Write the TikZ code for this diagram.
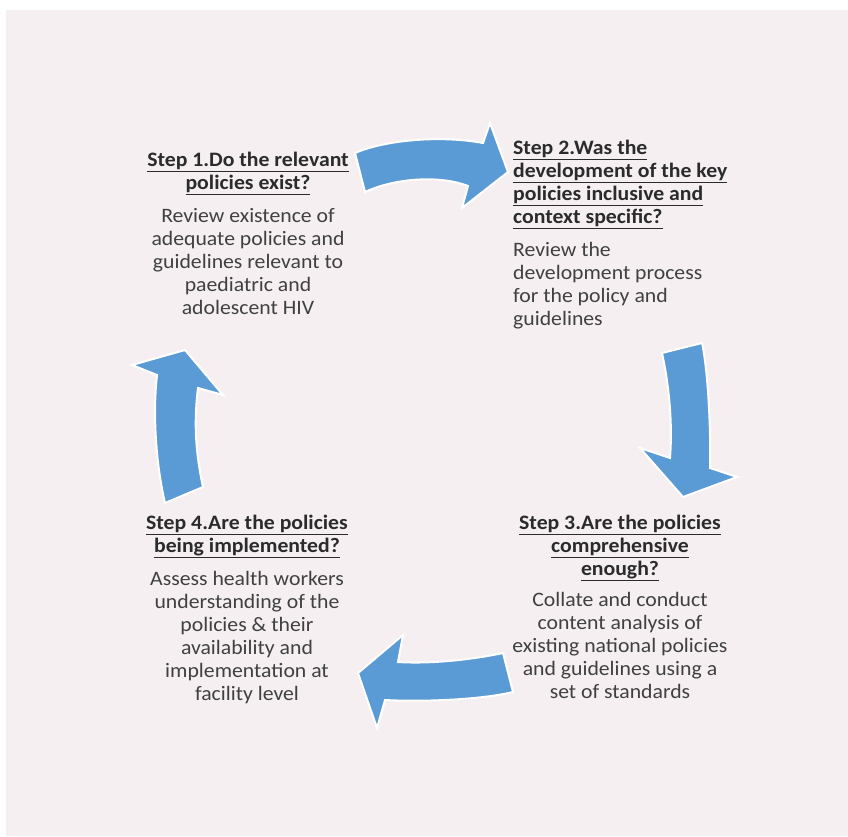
\documentclass[tikz,border=0pt]{standalone}
\usepackage{fontspec}
\setmainfont{Carlito}[FakeStretch=1.06]
\usepackage{tikz}
\usetikzlibrary{positioning}
\definecolor{bgpink}{HTML}{F5EFF1}
\definecolor{arrowblue}{HTML}{5B9BD5}
\definecolor{textgray}{HTML}{404040}
\definecolor{headgray}{HTML}{2B2B2B}
\newcommand{\stephead}[1]{{\color{headgray}\bfseries\underline{#1}}}

\begin{document}
\begin{tikzpicture}[x=1pt,y=-1pt,
  stepbox/.style={inner sep=0pt,text=textgray,font=\fontsize{20.5}{23}\selectfont},
  cyclearrow/.style={fill=arrowblue,draw=white,line width=2pt,line join=miter}]
  \useasboundingbox (0,0) rectangle (848,836);
  \fill[bgpink] (6,10) rectangle (848,836);
  % the four steps
  \node[stepbox,align=center,anchor=north] (step1) at (248,152)
    {\stephead{Step 1.Do the relevant}\\ \stephead{policies exist?}\\[10pt]
     Review existence of\\ adequate policies and\\ guidelines relevant to\\
     paediatric and\\ adolescent HIV};
  \node[stepbox,align=left,anchor=north west] (step2) at (513,140)
    {\stephead{Step 2.Was the}\\ \stephead{development of the key}\\
     \stephead{policies inclusive and}\\ \stephead{context specific?}\\[10pt]
     Review the\\ development process\\ for the policy and\\ guidelines};
  \node[stepbox,align=center,anchor=north] (step3) at (620,515)
    {\stephead{Step 3.Are the policies}\\ \stephead{comprehensive}\\
     \stephead{enough?}\\[8pt]
     Collate and conduct\\ content analysis of\\ existing national policies\\
     and guidelines using a\\ set of standards};
  \node[stepbox,align=center,anchor=north] (step4) at (247,515)
    {\stephead{Step 4.Are the policies}\\ \stephead{being implemented?}\\[10pt]
     Assess health workers\\ understanding of the\\ policies \& their\\
     availability and\\ implementation at\\ facility level};
  % curved arrows between the steps
  \draw[cyclearrow] (355,153) .. controls (385,140) and (440,135) .. (483,143)
    -- (490,123) -- (508,172) -- (462,208) -- (468,186)
    .. controls (440,175) and (395,178) .. (365,192) -- cycle;
  \draw[cyclearrow] (662,353) -- (702,343) .. controls (708,370) and (711,430) .. (710,468)
    -- (737,477) -- (683,497) -- (640,448) -- (670,458)
    .. controls (673,420) and (668,380) .. (662,353) -- cycle;
  \draw[cyclearrow] (503,653) .. controls (470,660) and (430,664) .. (398,662)
    -- (403,635) -- (358,673) -- (377,728) -- (385,700)
    .. controls (420,702) and (480,700) .. (513,692) -- cycle;
  \draw[cyclearrow] (165,503) -- (203,487) .. controls (195,450) and (194,420) .. (198,388)
    -- (223,395) -- (185,350) -- (132,365) -- (157,375)
    .. controls (153,410) and (155,460) .. (165,503) -- cycle;
\end{tikzpicture}
\end{document}
